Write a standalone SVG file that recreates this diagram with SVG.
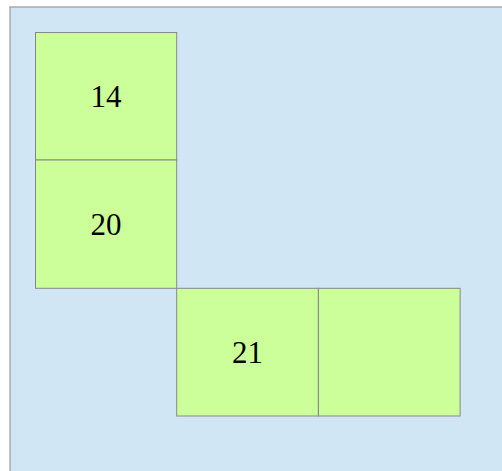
<svg xmlns="http://www.w3.org/2000/svg" width="502" height="471" viewBox="0 0 502 471">
<style>
.bg{fill:#d0e6f4;stroke:#aaaaaa;stroke-width:1.5}
.cell{fill:#ccff99;stroke:#888888;stroke-width:1}
.lbl{font-family:"Liberation Serif","Times New Roman",serif;font-size:31px;fill:#000;text-anchor:middle}
</style>
<rect class="bg" x="10" y="7" width="500" height="480"/>
<g id="connectors"></g>
<g id="n14"><rect class="cell" x="35.5" y="32.5" width="141.2" height="127.5"/><text class="lbl" x="106" y="106.5">14</text></g>
<g id="n20"><rect class="cell" x="35.5" y="160" width="141.2" height="128.3"/><text class="lbl" x="106" y="235">20</text></g>
<g id="n21"><rect class="cell" x="176.7" y="288.3" width="141.7" height="127.7"/><text class="lbl" x="247.5" y="363">21</text></g>
<g id="n22"><rect class="cell" x="318.4" y="288.3" width="141.7" height="127.7"/></g>
</svg>
